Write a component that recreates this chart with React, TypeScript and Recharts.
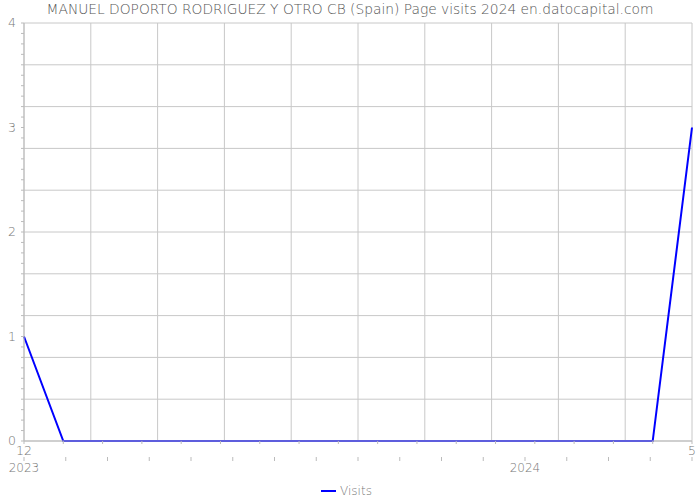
import React from "react";
import {
  LineChart,
  Line,
  XAxis,
  YAxis,
  CartesianGrid,
  Legend,
} from "recharts";

const title =
  "MANUEL DOPORTO RODRIGUEZ Y OTRO CB (Spain) Page visits 2024 en.datocapital.com";
const monthLabels = [
  "12", "1", "2", "3", "4", "5", "6", "7", "8", "9", "10", "11", "12", "1", "2", "3", "4", "5",
];
const visits = [1, 0, 0, 0, 0, 0, 0, 0, 0, 0, 0, 0, 0, 0, 0, 0, 0, 3];
const yearLabels: Record<number, string> = { 0: "2023", 12: "2024" };
const seriesName = "Visits";

const data = visits.map((v, i) => ({ i, month: monthLabels[i], visits: v }));
const N = visits.length - 1;

const xTicks = visits.map((_, i) => i);
const yearTicks = Array.from({ length: 17 }, (_, k) => (k * N) / 16);
const vGrid = Array.from({ length: 11 }, (_, k) => (k * N) / 10);
const yMinor = Array.from({ length: 41 }, (_, k) => k / 10);
const hGrid = Array.from({ length: 11 }, (_, k) => Math.round(k * 4) / 10);

const FONT = "'DejaVu Sans', sans-serif";
const TXT = "#777";
const AX = "#bbb";
const FW = 200;

const MonthTick = (props: any) => {
  const { x, y, payload } = props;
  const i = payload.value;
  if (i !== 0 && i !== N) return null;
  return (
    <text x={x} y={y} dy="0.71em" textAnchor="middle" fill={TXT} fontSize={12.5} fontFamily={FONT} fontWeight={FW}>
      {monthLabels[i]}
    </text>
  );
};

const YearTick = (props: any) => {
  const { x, y, index } = props;
  const lbl = yearLabels[index];
  if (!lbl) return null;
  return (
    <text x={x} y={y} dy="0.71em" textAnchor="middle" fill={TXT} fontSize={12} fontFamily={FONT} fontWeight={FW}>
      {lbl}
    </text>
  );
};

const YTick = (props: any) => {
  const { x, y, payload } = props;
  const v = payload.value;
  if (Math.abs(v - Math.round(v)) > 1e-6) return null;
  return (
    <text x={x} y={y} dy="0.355em" textAnchor="end" fill={TXT} fontSize={12.5} fontFamily={FONT} fontWeight={FW}>
      {Math.round(v)}
    </text>
  );
};

const LegendContent = () => (
  <div
    style={{
      display: "flex",
      justifyContent: "center",
      alignItems: "center",
      height: 18,
      fontFamily: FONT,
      fontSize: 12,
      fontWeight: FW,
      color: "#777",
    }}
  >
    <svg width={18} height={10} style={{ marginRight: 2 }}>
      <line x1={1} y1={5} x2={16} y2={5} stroke="#0000ff" strokeWidth={2} />
    </svg>
    <span>{seriesName}</span>
  </div>
);

export default function App() {
  return (
    <div style={{ position: "absolute", left: 0, top: 0, width: 700, height: 500 }}>
      <div
        style={{
          position: "absolute",
          left: 0,
          top: 1,
          width: 700,
          textAlign: "center",
          fontFamily: FONT,
          fontSize: 13.8,
          fontWeight: FW,
          color: "#555",
          zIndex: 1,
        }}
      >
        {title}
      </div>
      <LineChart
        width={700}
        height={500}
        data={data}
        margin={{ top: 23, right: 8, bottom: 0, left: 0 }}
      >
        <CartesianGrid
          stroke="#c8c8c8"
          horizontalValues={hGrid}
          verticalValues={vGrid}
        />
        <XAxis
          dataKey="i"
          type="number"
          domain={[0, N]}
          ticks={xTicks}
          interval={0}
          tickSize={3}
          height={16}
          stroke={AX}
          tickLine={{ stroke: AX }}
          tick={<MonthTick />}
        />
        <XAxis
          xAxisId="yr"
          dataKey="i"
          type="number"
          domain={[0, N]}
          ticks={yearTicks}
          interval={0}
          tickSize={4}
          height={25}
          axisLine={false}
          tickLine={{ stroke: AX }}
          tick={<YearTick />}
        />
        <YAxis
          type="number"
          domain={[0, 4]}
          ticks={yMinor}
          interval={0}
          width={24}
          tickSize={3}
          tickMargin={5}
          stroke={AX}
          tickLine={{ stroke: AX }}
          tick={<YTick />}
        />
        <Legend
          verticalAlign="bottom"
          align="center"
          wrapperStyle={{ height: 18 }}
          content={<LegendContent />}
        />
        <Line
          type="linear"
          dataKey="visits"
          name={seriesName}
          stroke="#0000ff"
          strokeWidth={2}
          dot={false}
          activeDot={false}
          isAnimationActive={false}
        />
      </LineChart>
    </div>
  );
}
